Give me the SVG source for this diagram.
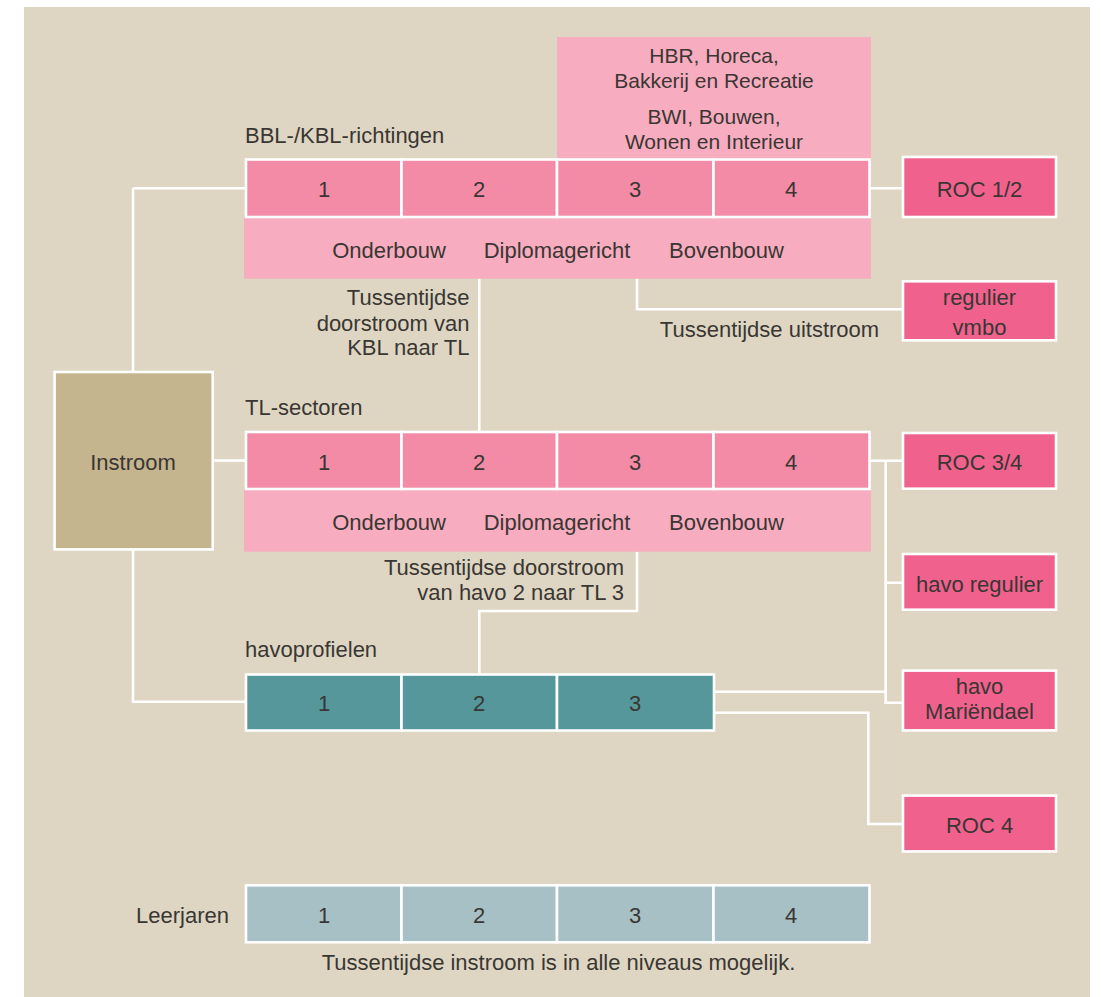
<svg xmlns="http://www.w3.org/2000/svg" width="1102" height="997" viewBox="0 0 1102 997">
<style>
text{font-family:"Liberation Sans",Arial,sans-serif;font-size:22px;fill:#3a3633}
.s{font-size:21px}
.m{text-anchor:middle}
.r{text-anchor:end}
.cell{fill:#F38BA6;stroke:#fff;stroke-width:2.6}
.band{fill:#F7ADBF}
.teal{fill:#56979C;stroke:#fff;stroke-width:2.6}
.year{fill:#A7C0C5;stroke:#fff;stroke-width:2.6}
.out{fill:#F0628D;stroke:#fff;stroke-width:2.6}
.in{fill:#C4B58E;stroke:#fff;stroke-width:2.6}
.conn path{fill:none;stroke:#fff;stroke-width:2.6}
</style>
<rect x="0" y="0" width="1102" height="997" fill="#ffffff"/>
<rect x="24" y="7" width="1066" height="990" fill="#DED6C2"/>

<g id="connectors" class="conn">
<path d="M133 188.3 H246 M133 188.3 V371"/>
<path d="M214 460.5 H246"/>
<path d="M133 550 V701.7 H246"/>
<path d="M869.5 188.3 H902"/>
<path d="M637 278.7 V309.3 H902"/>
<path d="M479.3 278.7 V432"/>
<path d="M637 551.7 V611 H479.3 V674"/>
<path d="M869.5 460.7 H902 M885.7 460.7 V702.7 H902 M885.7 582.7 H902"/>
<path d="M714 691.7 H885.7"/>
<path d="M714 712.7 H868.3 V824 H902"/>
</g>

<g id="sectors-box">
<rect x="557" y="37" width="314" height="122" class="band"/>
<text class="m s" x="714" y="63">HBR, Horeca,</text>
<text class="m s" x="714" y="88">Bakkerij en Recreatie</text>
<text class="m s" x="714" y="124">BWI, Bouwen,</text>
<text class="m s" x="714" y="149">Wonen en Interieur</text>
</g>

<g id="bbl">
<text x="245" y="143">BBL-/KBL-richtingen</text>
<rect x="244" y="217" width="627" height="61.7" class="band"/>
<rect x="246" y="159.5" width="155.5" height="57.5" class="cell"/>
<rect x="401.5" y="159.5" width="155.5" height="57.5" class="cell"/>
<rect x="557" y="159.5" width="156.5" height="57.5" class="cell"/>
<rect x="713.5" y="159.5" width="156" height="57.5" class="cell"/>
<text class="m" x="324" y="197">1</text>
<text class="m" x="479" y="197">2</text>
<text class="m" x="635" y="197">3</text>
<text class="m" x="791" y="197">4</text>
<text class="m" x="389" y="258">Onderbouw</text>
<text class="m" x="557" y="258">Diplomagericht</text>
<text class="m" x="726.5" y="258">Bovenbouw</text>
</g>

<g id="label-kbl-tl">
<text class="r" x="469.5" y="305">Tussentijdse</text>
<text class="r" x="469.5" y="330.5">doorstroom van</text>
<text class="r" x="469.5" y="354.5">KBL naar TL</text>
</g>

<g id="label-uitstroom">
<text class="m" x="769.5" y="337">Tussentijdse uitstroom</text>
</g>

<g id="instroom">
<rect x="54.6" y="372" width="158.1" height="177.4" class="in"/>
<text class="m" x="133" y="470">Instroom</text>
</g>

<g id="tl">
<text x="245" y="415">TL-sectoren</text>
<rect x="244" y="489" width="627" height="62.7" class="band"/>
<rect x="246" y="432" width="155.5" height="57" class="cell"/>
<rect x="401.5" y="432" width="155.5" height="57" class="cell"/>
<rect x="557" y="432" width="156.5" height="57" class="cell"/>
<rect x="713.5" y="432" width="156" height="57" class="cell"/>
<text class="m" x="324" y="470">1</text>
<text class="m" x="479" y="470">2</text>
<text class="m" x="635" y="470">3</text>
<text class="m" x="791" y="470">4</text>
<text class="m" x="389" y="530">Onderbouw</text>
<text class="m" x="557" y="530">Diplomagericht</text>
<text class="m" x="726.5" y="530">Bovenbouw</text>
</g>

<g id="label-havo-tl">
<text class="r" x="624" y="575">Tussentijdse doorstroom</text>
<text class="r" x="624" y="600">van havo 2 naar TL 3</text>
</g>

<g id="havo">
<text x="245" y="657">havoprofielen</text>
<rect x="246" y="674.5" width="155.5" height="56" class="teal"/>
<rect x="401.5" y="674.5" width="155.5" height="56" class="teal"/>
<rect x="557" y="674.5" width="157" height="56" class="teal"/>
<text class="m" x="324" y="711">1</text>
<text class="m" x="479" y="711">2</text>
<text class="m" x="635" y="711">3</text>
</g>

<g id="roc12">
<rect x="903" y="157" width="153" height="60" class="out"/>
<text class="m" x="979.5" y="196.5">ROC 1/2</text>
</g>
<g id="regulier-vmbo">
<rect x="903" y="281.3" width="153" height="59" class="out"/>
<text class="m" x="979.5" y="305">regulier</text>
<text class="m" x="979.5" y="334.5">vmbo</text>
</g>
<g id="roc34">
<rect x="903" y="433" width="153" height="55.7" class="out"/>
<text class="m" x="979.5" y="470">ROC 3/4</text>
</g>
<g id="havo-regulier">
<rect x="903" y="554" width="153" height="55.7" class="out"/>
<text class="m" x="979.5" y="591.5">havo regulier</text>
</g>
<g id="havo-mariendael">
<rect x="903" y="670.6" width="153" height="59.8" class="out"/>
<text class="m" x="979.5" y="694">havo</text>
<text class="m" x="979.5" y="719">Mariëndael</text>
</g>
<g id="roc4">
<rect x="903" y="795.6" width="153" height="55.8" class="out"/>
<text class="m" x="979.5" y="832.5">ROC 4</text>
</g>

<g id="leerjaren">
<text class="r" x="229" y="923">Leerjaren</text>
<rect x="246" y="885.3" width="155.5" height="57" class="year"/>
<rect x="401.5" y="885.3" width="155.5" height="57" class="year"/>
<rect x="557" y="885.3" width="156.5" height="57" class="year"/>
<rect x="713.5" y="885.3" width="156" height="57" class="year"/>
<text class="m" x="324" y="923">1</text>
<text class="m" x="479" y="923">2</text>
<text class="m" x="635" y="923">3</text>
<text class="m" x="791" y="923">4</text>
<text class="m" x="558.5" y="970">Tussentijdse instroom is in alle niveaus mogelijk.</text>
</g>
</svg>
